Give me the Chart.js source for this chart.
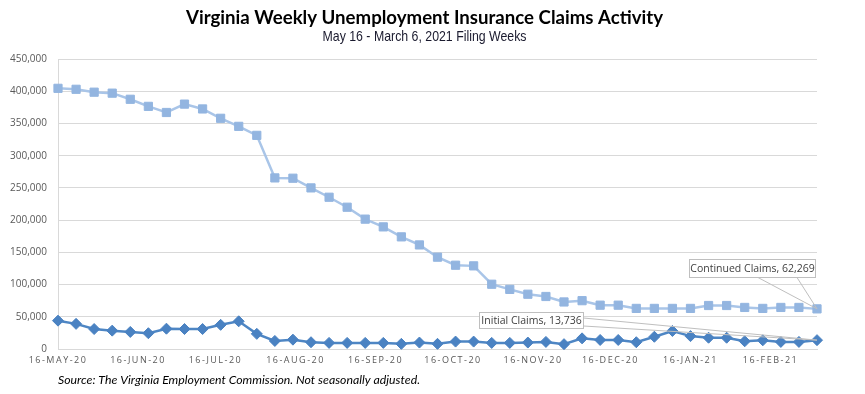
<!DOCTYPE html>
<html><head><meta charset="utf-8">
<script src="https://cdn.jsdelivr.net/npm/chart.js@4.4.1/dist/chart.umd.min.js"></script>
<style>html,body{margin:0;padding:0;background:#fff;overflow:hidden}#wrap{position:relative;width:865px;height:394px}</style>
</head><body><div id="wrap"><canvas id="c" width="865" height="394"></canvas></div>
<script>
// ---- data ----
const weekEnding = [
 '2020-05-16','2020-05-23','2020-05-30','2020-06-06','2020-06-13','2020-06-20','2020-06-27',
 '2020-07-04','2020-07-11','2020-07-18','2020-07-25','2020-08-01','2020-08-08','2020-08-15',
 '2020-08-22','2020-08-29','2020-09-05','2020-09-12','2020-09-19','2020-09-26','2020-10-03',
 '2020-10-10','2020-10-17','2020-10-24','2020-10-31','2020-11-07','2020-11-14','2020-11-21',
 '2020-11-28','2020-12-05','2020-12-12','2020-12-19','2020-12-26','2021-01-02','2021-01-09',
 '2021-01-16','2021-01-23','2021-01-30','2021-02-06','2021-02-13','2021-02-20','2021-02-27',
 '2021-03-06'];
const continuedClaims = [
 404500,403000,398500,397000,387500,376500,367000,380000,372500,358000,345500,331500,265500,265000,
 250000,235500,220000,201500,189500,174000,161500,142500,130000,129000,100500,92500,85000,81500,
 73000,75000,68000,68000,63000,63000,63000,63000,67500,67500,64500,63000,64500,64500,62269];
const initialClaims = [
 44000,39000,31000,28500,26500,24500,31500,31000,31000,37500,43000,23500,12500,14500,
 10500,9500,9500,9500,9500,8000,10000,8000,11500,11500,9500,9500,10000,11000,
 7500,16500,14000,14000,10500,19000,28000,20000,17500,17500,12000,13500,11000,11000,13736];
const tickDates = ['2020-05-16','2020-06-16','2020-07-16','2020-08-16','2020-09-16','2020-10-16',
 '2020-11-16','2020-12-16','2021-01-16','2021-02-16'];
const tickLabels = ['16-MAY-20','16-JUN-20','16-JUL-20','16-AUG-20','16-SEP-20','16-OCT-20',
 '16-NOV-20','16-DEC-20','16-JAN-21','16-FEB-21'];
const yTickValues = [0,50000,100000,150000,200000,250000,300000,350000,400000,450000];

const titleText = 'Virginia Weekly Unemployment Insurance Claims Activity';
const subtitleText = 'May 16 - March 6, 2021 Filing Weeks';
const sourceText = 'Source: The Virginia Employment Commission. Not seasonally adjusted.';

// ---- helpers ----
const day0 = Date.parse(weekEnding[0] + 'T00:00:00Z');
const toDay = s => Math.round((Date.parse(s + 'T00:00:00Z') - day0) / 86400000);
const contPts = weekEnding.map((d, i) => ({x: toDay(d), y: continuedClaims[i]}));
const initPts = weekEnding.map((d, i) => ({x: toDay(d), y: initialClaims[i]}));
const tickDays = tickDates.map(toDay);
const fmt = v => v.toLocaleString('en-US');

function fitText(ctx, text, x, y, targetW, font, color, align) {
  ctx.save();
  ctx.font = font;
  ctx.fillStyle = color;
  ctx.textBaseline = 'middle';
  const w = ctx.measureText(text).width;
  const s = targetW / w;
  ctx.translate(x, y);
  ctx.scale(s, 1);
  ctx.textAlign = align || 'center';
  ctx.fillText(text, 0, 0);
  ctx.restore();
}

const decor = {
  id: 'decor',
  beforeDraw(chart) {
    const xs = chart.scales.x;
    if (!xs._lsPatched) {
      const orig = xs.drawLabels;
      xs.drawLabels = function (area) {
        const c = this.ctx; c.save(); c.letterSpacing = '1.5px'; orig.call(this, area); c.restore();
      };
      xs._lsPatched = true;
    }
    const ctx = chart.ctx;
    ctx.save(); ctx.fillStyle = '#fff'; ctx.fillRect(0, 0, chart.width, chart.height); ctx.restore();
    fitText(ctx, titleText, 424.5, 18, 477, 'bold 19px Lato', '#000');
    fitText(ctx, subtitleText, 424.5, 36.5, 204, '15px "Liberation Sans Narrow", "Liberation Sans"', '#1a1a2e');
    fitText(ctx, sourceText, 58, 380, 362, 'italic 12px Lato', '#000', 'left');
  },
  afterDatasetsDraw(chart) {
    const ctx = chart.ctx;
    const n = continuedClaims.length - 1;
    const pc = chart.getDatasetMeta(0).data[n];
    const pi = chart.getDatasetMeta(1).data[n];
    ctx.save();
    ctx.strokeStyle = '#bfbfbf';
    ctx.lineWidth = 1;
    // continued callout
    const cb = {x: 689.5, y: 259.5, w: 126, h: 18};
    ctx.beginPath();
    ctx.moveTo(758, cb.y + cb.h); ctx.lineTo(pc.x, pc.y); ctx.lineTo(797, cb.y + cb.h);
    ctx.stroke();
    // initial callout
    const ib = {x: 479.5, y: 312.5, w: 104, h: 16};
    ctx.beginPath();
    ctx.moveTo(ib.x + ib.w, 318); ctx.lineTo(pi.x, pi.y); ctx.lineTo(ib.x + ib.w, 326);
    ctx.stroke();
    ctx.fillStyle = '#fff';
    for (const b of [cb, ib]) { ctx.fillRect(b.x, b.y, b.w, b.h); ctx.strokeRect(b.x, b.y, b.w, b.h); }
    ctx.fillStyle = '#404040';
    ctx.font = '10.5px "Open Sans"';
    ctx.textBaseline = 'middle';
    ctx.textAlign = 'center';
    ctx.fillText('Continued Claims, ' + fmt(continuedClaims[n]), cb.x + cb.w / 2, cb.y + cb.h / 2 + 0.5);
    ctx.fillText('Initial Claims, ' + fmt(initialClaims[n]), ib.x + ib.w / 2, ib.y + ib.h / 2 + 0.5);
    ctx.restore();
  }
};

new Chart(document.getElementById('c'), {
  type: 'line',
  data: {
    datasets: [
      {label: 'Continued Claims', data: contPts, borderColor: '#a9c5e8', backgroundColor: '#93b5e0',
       pointBorderColor: '#93b5e0', borderWidth: 2.5, pointStyle: 'rect', pointRadius: 5.8, pointBorderWidth: 1,
       tension: 0, clip: false},
      {label: 'Initial Claims', data: initPts, borderColor: '#4e86c4', backgroundColor: '#4a82c2',
       pointBorderColor: '#4a82c2', borderWidth: 2.5, pointStyle: 'rectRot', pointRadius: 5.5, pointBorderWidth: 1,
       tension: 0, clip: false}
    ]
  },
  options: {
    responsive: false,
    animation: false,
    events: [],
    layout: {padding: {top: 59, right: 48, left: 0, bottom: 0}},
    plugins: {legend: {display: false}, tooltip: {enabled: false}},
    scales: {
      x: {
        type: 'linear', min: 0, max: toDay(weekEnding[weekEnding.length - 1]),
        afterBuildTicks: s => { s.ticks = tickDays.map(v => ({value: v})); },
        afterFit: s => { s.height = 45; },
        grid: {display: false, drawTicks: false},
        border: {display: true, color: '#d9d9d9', width: 1},
        ticks: {autoSkip: false, maxRotation: 0, padding: 6, color: '#595959',
          font: {family: '"Open Sans"', size: 9},
          callback: (v, i) => tickLabels[i]}
      },
      y: {
        min: 0, max: 450000,
        afterBuildTicks: s => { s.ticks = yTickValues.map(v => ({value: v})); },
        afterFit: s => { s.width = 58; },
        grid: {color: '#d9d9d9', lineWidth: 1, drawTicks: false},
        border: {display: true, color: '#d9d9d9', width: 1},
        ticks: {padding: 11, color: '#595959', font: {family: '"Open Sans"', size: 10},
          callback: v => fmt(v)}
      }
    }
  },
  plugins: [decor]
});
</script></body></html>
